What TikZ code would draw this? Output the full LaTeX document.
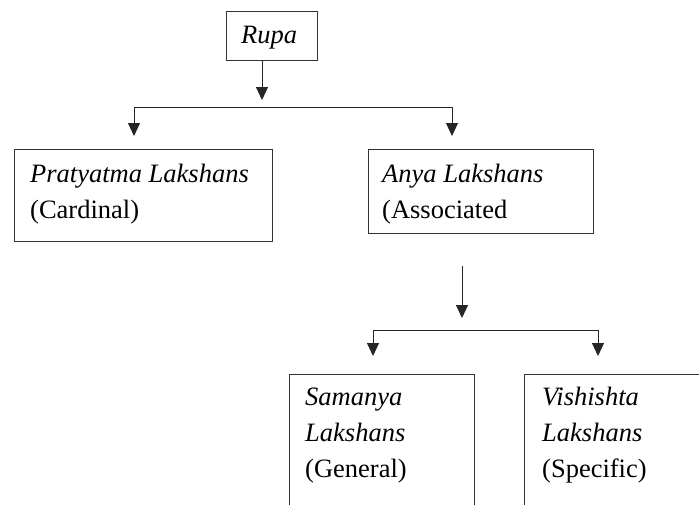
\documentclass[tikz,border=0pt]{standalone}
\usepackage{fontspec}
\setmainfont{Liberation Serif}
\usetikzlibrary{arrows.meta}
\begin{document}
\begin{tikzpicture}[x=1pt,y=-1pt,
  boxstyle/.style={draw=black!80,line width=1pt,anchor=north west,inner sep=0pt},
  txt/.style={anchor=base west,inner sep=0pt,font=\fontsize{26.5}{36}\selectfont},
  conn/.style={draw=black!85,line width=1pt},
  arr/.style={conn,-{Triangle[width=12pt,length=13pt]}}]
\clip (0,0) rectangle (699,504);
\fill[white] (0,0) rectangle (699,504);
% boxes
\node[boxstyle,minimum width=91pt,minimum height=49pt] (rupa) at (226,11) {};
\node[boxstyle,minimum width=258pt,minimum height=92pt] (prat) at (14,149) {};
\node[boxstyle,minimum width=225pt,minimum height=84pt] (anya) at (368,149) {};
\node[boxstyle,minimum width=185pt,minimum height=160pt] (sam) at (289,374) {};
\node[boxstyle,minimum width=200pt,minimum height=160pt] (vis) at (524,374) {};
% texts
\node[txt] (trupa) at (241,43) {\itshape Rupa};
\node[txt] (tprat1) at (30,182) {\itshape Pratyatma Lakshans};
\node[txt] (tprat2) at (30,218) {(Cardinal)};
\node[txt] (tanya1) at (382,182) {\itshape Anya Lakshans};
\node[txt] (tanya2) at (382,218) {(Associated};
\node[txt] (tsam1) at (305,405) {\itshape Samanya};
\node[txt] (tsam2) at (305,441) {\itshape Lakshans};
\node[txt] (tsam3) at (305,477) {(General)};
\node[txt] (tvis1) at (542,405) {\itshape Vishishta};
\node[txt] (tvis2) at (542,441) {\itshape Lakshans};
\node[txt] (tvis3) at (542,477) {(Specific)};
% coordinates
\coordinate (r0) at (262,60);
\coordinate (r1) at (262,100);
\coordinate (b1l) at (134,107);
\coordinate (b1r) at (452,107);
\coordinate (b1la) at (134,136);
\coordinate (b1ra) at (452,136);
\coordinate (a0) at (462,266);
\coordinate (a1) at (462,318);
\coordinate (b2l) at (373,330);
\coordinate (b2r) at (598,330);
\coordinate (b2la) at (373,356);
\coordinate (b2ra) at (598,356);
% connectors
\draw[arr] (r0) -- (r1);
\draw[conn] (b1l) -- (b1r);
\draw[arr] (b1l) -- (b1la);
\draw[arr] (b1r) -- (b1ra);
\draw[arr] (a0) -- (a1);
\draw[conn] (b2l) -- (b2r);
\draw[arr] (b2l) -- (b2la);
\draw[arr] (b2r) -- (b2ra);
\end{tikzpicture}
\end{document}
